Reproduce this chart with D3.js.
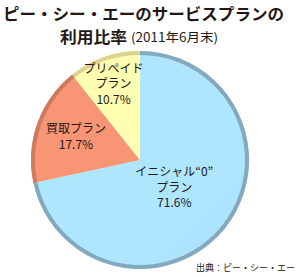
<!DOCTYPE html>
<html>
<head>
<meta charset="utf-8">
<script src="https://cdn.jsdelivr.net/npm/d3@7"></script>
<style>
  body { margin: 0; background: #fff; }
  text { font-family: "Noto Sans CJK JP", sans-serif; fill: #231815; }
</style>
</head>
<body>
<div id="chart"></div>
<script>
// data
const plans = ['イニシャル“0”\nプラン', '買取プラン', 'プリペイド\nプラン']
const shares = [71.6, 17.7, 10.7]
const fills = ['#a6daf3', '#ea8d6e', '#faf1a8']
const rims = ['#84a9bf', '#cf7a5c', '#dcd392']
const labelRadius = [44, 68, 80]

const W = 300, H = 277
const cx = 140, cy = 160, r = 109
const lineH = 15.5

const svg = d3.select('#chart').append('svg')
    .attr('width', W)
    .attr('height', H)

// title
svg.append('text')
    .attr('x', 3).attr('y', 19.5)
    .attr('font-size', 16).attr('font-weight', 'bold')
    .attr('textLength', 281).attr('lengthAdjust', 'spacingAndGlyphs')
    .text('ピー・シー・エーのサービスプランの')
svg.append('text')
    .attr('x', 60).attr('y', 43)
    .attr('font-size', 16).attr('font-weight', 'bold')
    .attr('textLength', 67).attr('lengthAdjust', 'spacingAndGlyphs')
    .text('利用比率')
svg.append('text')
    .attr('x', 131).attr('y', 42)
    .attr('font-size', 12.5)
    .attr('textLength', 87).attr('lengthAdjust', 'spacingAndGlyphs')
    .text('(2011年6月末)')

const defs = svg.append('defs')
fills.forEach((c, i) => {
    const g = defs.append('linearGradient')
        .attr('id', 'grad' + i)
        .attr('gradientUnits', 'userSpaceOnUse')
        .attr('x1', cx - r).attr('y1', cy - r)
        .attr('x2', cx + r).attr('y2', cy + r)
    g.append('stop').attr('offset', '0%').attr('stop-color', d3.color(c).brighter(0.15))
    g.append('stop').attr('offset', '55%').attr('stop-color', c)
    g.append('stop').attr('offset', '100%').attr('stop-color', d3.color(c).darker(0.35))
})

const pie = d3.pie().sort(null).value(d => d)
const arcs = pie(shares)

const arc = d3.arc().innerRadius(0).outerRadius(r)
const rimArc = d3.arc().innerRadius(r - 4).outerRadius(r)

const g = svg.append('g')
    .attr('transform', `translate(${cx},${cy})`)

g.selectAll('path.slice')
    .data(arcs)
    .join('path')
    .attr('class', 'slice')
    .attr('d', arc)
    .attr('fill', (d, i) => `url(#grad${i})`)

g.selectAll('path.rim')
    .data(arcs)
    .join('path')
    .attr('class', 'rim')
    .attr('d', rimArc)
    .attr('fill', (d, i) => rims[i])

// labels, one text per line
arcs.forEach((d, i) => {
    const [x, y] = d3.arc().innerRadius(labelRadius[i]).outerRadius(labelRadius[i]).centroid(d)
    const lines = plans[i].split('\n').concat([d3.format('.1f')(shares[i]) + '%'])
    const y0 = y - (lines.length - 1) * lineH / 2 + 4
    g.selectAll(null)
        .data(lines)
        .join('text')
        .attr('class', 'label')
        .attr('font-size', 12)
        .attr('text-anchor', 'middle')
        .attr('x', x)
        .attr('y', (l, j) => y0 + j * lineH)
        .text(l => l)
})

// source
svg.append('text')
    .attr('x', 295).attr('y', 271)
    .attr('text-anchor', 'end')
    .attr('font-size', 9)
    .attr('fill', '#444')
    .text('出典：ピー・シー・エー')
</script>
</body>
</html>
